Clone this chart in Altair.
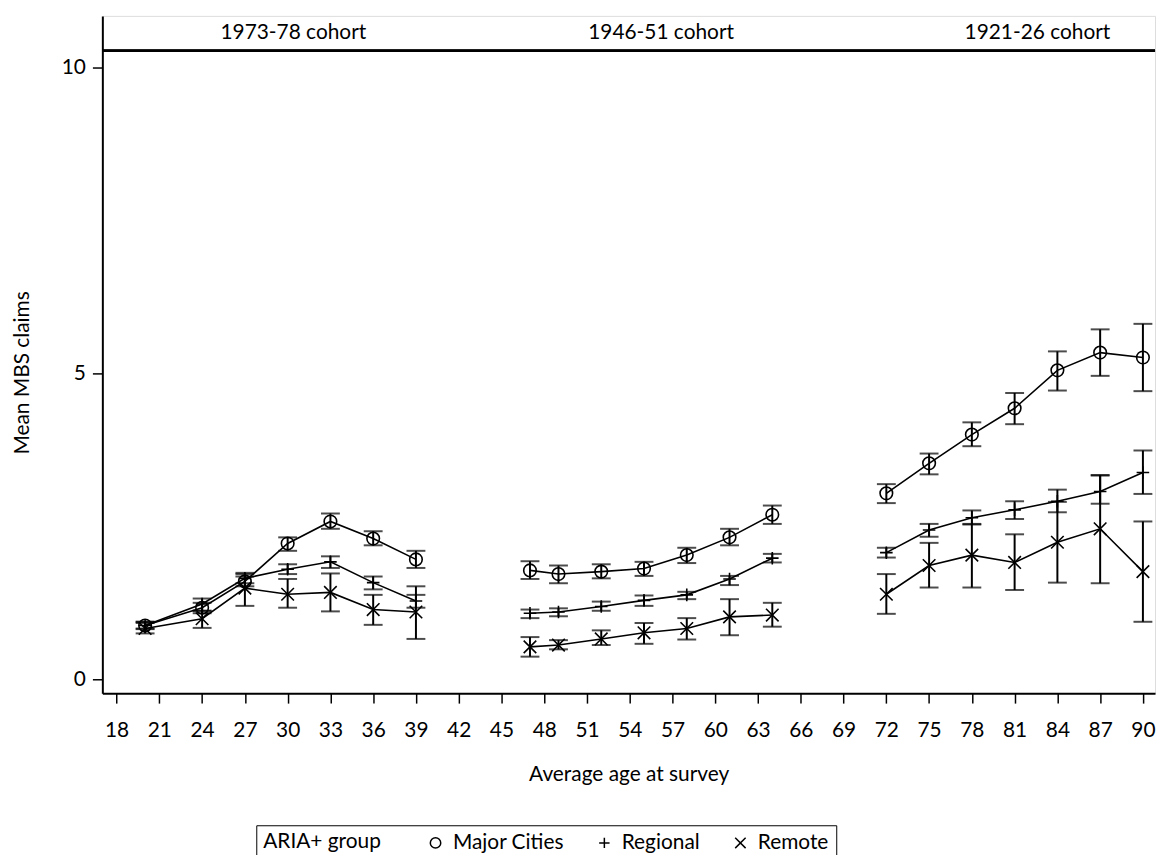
import altair as alt
import pandas as pd

FONT = "Lato"
FS = 21

ages = [20, 24, 27, 30, 33, 36, 39,
        47, 49, 52, 55, 58, 61, 64,
        72, 75, 78, 81, 84, 87, 90]
cohorts = (["1973-78 cohort"] * 7 + ["1946-51 cohort"] * 7 + ["1921-26 cohort"] * 7)
groups = ["Major Cities", "Regional", "Remote"]

major_mean = [0.88, 1.17, 1.60, 2.22, 2.58, 2.30, 1.96,
              1.78, 1.72, 1.76, 1.81, 2.03, 2.32, 2.69,
              3.04, 3.53, 4.00, 4.43, 5.05, 5.34, 5.26]
major_lo = [0.82, 1.08, 1.52, 2.10, 2.46, 2.19, 1.82,
            1.64, 1.57, 1.65, 1.69, 1.90, 2.19, 2.54,
            2.88, 3.35, 3.81, 4.17, 4.72, 4.96, 4.71]
major_hi = [0.94, 1.25, 1.68, 2.32, 2.71, 2.42, 2.10,
            1.93, 1.86, 1.88, 1.92, 2.15, 2.46, 2.84,
            3.19, 3.69, 4.20, 4.68, 5.36, 5.72, 5.81]

regional_mean = [0.88, 1.23, 1.65, 1.80, 1.92, 1.58, 1.28,
                 1.08, 1.10, 1.19, 1.29, 1.38, 1.64, 1.98,
                 2.07, 2.44, 2.64, 2.77, 2.91, 3.07, 3.38]
regional_lo = [0.83, 1.12, 1.57, 1.72, 1.82, 1.47, 1.17,
               1.00, 1.03, 1.12, 1.20, 1.31, 1.54, 1.91,
               1.99, 2.33, 2.53, 2.62, 2.73, 2.87, 3.03]
regional_hi = [0.94, 1.32, 1.74, 1.88, 2.01, 1.68, 1.38,
               1.14, 1.16, 1.27, 1.37, 1.43, 1.69, 2.05,
               2.15, 2.54, 2.76, 2.91, 3.10, 3.34, 3.74]

remote_mean = [0.83, 0.99, 1.49, 1.39, 1.42, 1.14, 1.10,
               0.53, 0.56, 0.66, 0.76, 0.83, 1.02, 1.05,
               1.39, 1.86, 2.03, 1.91, 2.24, 2.46, 1.76]
remote_lo = [0.75, 0.84, 1.20, 1.17, 1.11, 0.89, 0.66,
             0.37, 0.49, 0.56, 0.58, 0.65, 0.72, 0.86,
             1.07, 1.50, 1.50, 1.46, 1.58, 1.57, 0.94]
remote_hi = [0.92, 1.12, 1.72, 1.64, 1.73, 1.38, 1.52,
             0.69, 0.64, 0.80, 0.92, 1.00, 1.31, 1.25,
             1.72, 2.23, 2.54, 2.37, 2.90, 3.33, 2.58]

header_labels = ["1973-78 cohort", "1946-51 cohort", "1921-26 cohort"]
header_ages = [30.4, 56.2, 82.6]

x_ticks = list(range(18, 91, 3))
y_ticks = [0, 5, 10]

means = [major_mean, regional_mean, remote_mean]
lows = [major_lo, regional_lo, remote_lo]
highs = [major_hi, regional_hi, remote_hi]

rows = []
for g, m, lo, hi in zip(groups, means, lows, highs):
    for a, c, mv, l, h in zip(ages, cohorts, m, lo, hi):
        rows.append(dict(age=a, cohort=c, group=g, mean=mv, lo=l, hi=h,
                         series=g + "|" + c))
df = pd.DataFrame(rows)
df_head = pd.DataFrame({"age": header_ages, "label": header_labels})

X_DOMAIN = [17, 90.85]
Y_DOMAIN = [-0.227, 10.844]
HEADER_BASE = 10.276
HEADER_MID = 10.56

xscale = alt.Scale(domain=X_DOMAIN, nice=False, zero=False)
yscale = alt.Scale(domain=Y_DOMAIN, nice=False, zero=False)

x_axis = alt.Axis(values=x_ticks, title="Average age at survey", grid=False,
                  format="d",
                  tickSize=10, tickWidth=1.5, tickColor="black",
                  labelFont=FONT, labelFontSize=FS, labelColor="black",
                  labelPadding=17, labelFlush=False, labelOverlap=False,
                  domainColor="black", domainWidth=2,
                  titleFont=FONT, titleFontSize=FS, titleFontWeight="normal",
                  titleColor="black", titleY=82, titleBaseline="middle")
y_axis = alt.Axis(values=y_ticks, title="Mean MBS claims", grid=False,
                  format="d",
                  tickSize=10, tickWidth=1.5, tickColor="black",
                  labelFont=FONT, labelFontSize=FS, labelColor="black",
                  labelPadding=7, domainColor="black", domainWidth=2,
                  titleFont=FONT, titleFontSize=FS, titleFontWeight="normal",
                  titleColor="black", titleX=-80, titleY=359,
                  titleBaseline="middle")

base = alt.Chart(df)
X = alt.X("age:Q", scale=xscale, axis=x_axis)

lines = base.mark_line(color="black", strokeWidth=1.6).encode(
    x=X,
    y=alt.Y("mean:Q", scale=yscale, axis=y_axis),
    detail="series:N",
    order="age:Q",
)

bars = base.mark_rule(color="black", strokeWidth=2).encode(
    x="age:Q", y="lo:Q", y2="hi:Q"
)
cap_lo = base.mark_tick(color="black", thickness=2, size=19,
                        orient="horizontal").encode(x="age:Q", y="lo:Q")
cap_hi = base.mark_tick(color="black", thickness=2, size=19,
                        orient="horizontal").encode(x="age:Q", y="hi:Q")

shape_range = ["circle", "M-1,0L1,0M0,-1L0,1", "M-1,-1L1,1M-1,1L1,-1"]
points = base.mark_point(filled=False, color="black", strokeWidth=1.6,
                         size=160, opacity=1).encode(
    x="age:Q",
    y="mean:Q",
    shape=alt.Shape(
        "group:N",
        scale=alt.Scale(domain=groups, range=shape_range),
        legend=alt.Legend(
            orient="none", legendX=155, legendY=815,
            direction="horizontal", title="ARIA+ group", titleOrient="left",
            titleFont=FONT, titleFontSize=FS, titleFontWeight="normal",
            titleColor="black", titlePadding=44,
            labelFont=FONT, labelFontSize=FS, labelColor="black",
            labelOffset=7,
            symbolSize=110, symbolStrokeColor="black", symbolStrokeWidth=1.5,
            symbolFillColor="transparent", columnPadding=30,
            strokeColor="black", padding=7,
        ),
    ),
)

header_rule = alt.Chart(df_head).mark_rule(color="black", strokeWidth=2.5).encode(
    y=alt.datum(HEADER_BASE)
)
header_text = alt.Chart(df_head).mark_text(
    font=FONT, fontSize=FS, color="black", baseline="middle"
).encode(x="age:Q", y=alt.datum(HEADER_MID), text="label:N")

chart = alt.layer(lines, bars, cap_lo, cap_hi, points, header_rule, header_text).properties(
    width=1060, height=682,
    autosize=alt.AutoSizeParams(type="none"),
    padding={"left": 95, "top": 5, "right": 4, "bottom": 160},
).configure_view(stroke="black", strokeWidth=1.5).configure(background="white")

chart.save("out.html", embed_options={"renderer": "svg", "actions": False})
